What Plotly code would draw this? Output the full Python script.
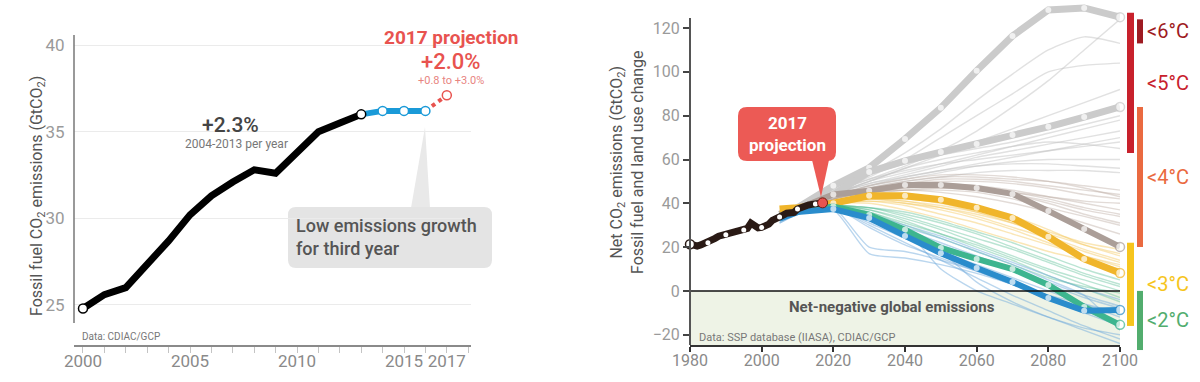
import plotly.graph_objects as go

W, H = 1200, 382

# ---------------- Left chart data ----------------
LEFT_YEARS = list(range(2000, 2018))
LEFT_VALUES = [24.8, 25.6, 26.0, 27.3, 28.7, 30.2, 31.3, 32.1, 32.8, 32.6,
               33.8, 35.0, 35.5, 36.0, 36.2, 36.2, 36.2, 37.1]
LEFT_XTICK_VALUES = [2000, 2005, 2010, 2015, 2017]
LEFT_YTICKS = [25, 30, 35, 40]

# ---------------- Right chart data ----------------
HIST_YEARS = list(range(1980, 2018))
HIST_VALUES = [21.3, 20.8, 20.5, 21.0, 21.6, 22.0, 23.0, 24.0, 25.0, 25.4,
               25.6, 26.3, 26.5, 26.8, 27.3, 27.8, 28.5, 31.0, 29.5, 28.8,
               29.0, 29.8, 30.5, 32.2, 33.3, 33.8, 34.6, 35.5, 36.0, 35.8,
               37.4, 38.2, 38.8, 39.2, 39.5, 39.7, 39.8, 40.2]
HIST_DOT_YEARS = [1985, 1990, 1995, 2000, 2005, 2010, 2015]

SCEN_YEARS = [2005, 2010, 2020, 2030, 2040, 2050, 2060, 2070, 2080, 2090, 2100]

THICK_GRAY_HIGH = [35, 38, 48, 56.2, 69.4, 83.6, 100.5, 116.4, 128.3, 129.2, 125]
THICK_GRAY_MID = [35, 38, 44, 54.3, 59.4, 63.4, 67.1, 71.2, 74.9, 79.4, 84]
THICK_TAUPE = [35, 37.5, 44, 45.7, 48.4, 48.4, 47, 44.3, 36.5, 28.3, 20.1]
THICK_YELLOW = [37.4, 38, 40, 43.4, 43.4, 41.6, 38, 33.3, 24.7, 14.6, 8.2]
THICK_GREEN = [34, 36.5, 38.5, 34.7, 27.9, 19.6, 14.6, 10.0, 2.7, -7.3, -15.5]
THICK_BLUE = [33, 36, 37.4, 33.3, 25.1, 17.2, 10.5, 4.1, -3.2, -9.1, -8.7]

THIN_GRAY = [
    [35, 37, 46, 54, 63, 74, 87, 99, 110, 116, 113],
    [34, 37, 45, 52, 60, 70, 80, 90, 100, 103, 104],
    [35, 37, 45, 51, 57, 64, 73, 84, 96, 110, 124],
    [34, 37, 44, 50, 56, 62, 68, 74, 80, 86, 92],
    [33, 36, 44, 50, 54, 58, 62, 66, 70, 74, 78],
    [35, 37, 44, 49, 53, 57, 61, 64, 67, 70, 73],
    [34, 37, 43, 48, 52, 55, 58, 61, 64, 67, 70],
    [35, 37, 44, 50, 56, 60, 63, 66, 68, 67, 65],
    [33, 36, 43, 48, 51, 54, 57, 59, 60, 60, 60],
    [34, 37, 43, 47, 50, 52, 54, 55, 55, 55, 54],
    [35, 37, 45, 53, 58, 62, 65, 68, 72, 76, 80],
    [34, 37, 44, 49, 52, 55, 57, 58, 58, 57, 56],
    [35, 37, 45, 51, 55, 58, 60, 62, 64, 66, 68],
]
THIN_TAUPE = [
    [35, 37, 43, 47, 50, 52, 52, 51, 50, 48, 46],
    [34, 37, 43, 47, 49, 50, 50, 49, 47, 44, 42],
    [33, 36, 42, 46, 48, 49, 48, 46, 43, 40, 37],
    [34, 37, 42, 45, 47, 47, 46, 44, 41, 37, 34],
    [35, 37, 42, 45, 46, 46, 45, 42, 38, 34, 30],
    [33, 36, 41, 44, 46, 47, 47, 45, 42, 38, 35],
    [34, 37, 42, 46, 48, 48, 47, 45, 43, 41, 40],
    [35, 37, 42, 45, 46, 45, 43, 40, 36, 31, 26],
    [34, 36, 42, 46, 49, 51, 51, 50, 48, 46, 44],
    [34, 37, 43, 48, 51, 53, 53, 52, 50, 47, 43],
    [33, 36, 42, 45, 47, 48, 47, 44, 40, 35, 31],
]
THIN_YELLOW = [
    [35, 37, 41, 43, 43, 41, 38, 34, 28, 21, 16],
    [34, 37, 40, 42, 41, 38, 34, 29, 24, 18, 13],
    [33, 36, 41, 42, 40, 37, 33, 28, 22, 16, 12],
    [34, 37, 40, 41, 39, 35, 31, 26, 21, 16, 11],
    [35, 37, 40, 42, 42, 40, 36, 31, 25, 19, 14],
    [33, 36, 40, 40, 37, 33, 28, 23, 18, 14, 10],
    [34, 37, 40, 41, 40, 38, 35, 31, 26, 21, 17],
    [34, 37, 41, 42, 41, 39, 36, 32, 27, 22, 19],
]
THIN_GREEN = [
    [34, 37, 39, 38, 34, 29, 24, 19, 13, 7, 2],
    [33, 36, 39, 37, 33, 28, 22, 16, 10, 5, 0],
    [34, 37, 39, 38, 35, 31, 26, 20, 14, 8, 3],
    [32, 36, 39, 36, 31, 26, 21, 15, 9, 3, -3],
    [33, 36, 39, 37, 32, 26, 20, 14, 7, 1, -5],
    [34, 37, 38, 36, 30, 24, 18, 12, 6, 2, -1],
    [33, 36, 39, 38, 36, 32, 27, 22, 16, 10, 5],
]
THIN_BLUE = [
    [33, 36, 38, 33, 27, 21, 15, 9, 3, -3, -8],
    [32, 36, 38, 31, 24, 18, 12, 6, 0, -6, -12],
    [31, 35, 37, 17, 15, 12, 8, 3, -2, -6, -10],
    [32, 36, 38, 20, 18, 14, 9, 3, -4, -10, -16],
    [33, 36, 38, 30, 22, 14, 6, -2, -9, -16, -22],
    [32, 35, 38, 32, 26, 18, 4, -5, -12, -18, -24],
    [31, 35, 38, 33, 28, 10, 0, -6, -12, -17, -20],
    [33, 36, 38, 34, 28, 22, 16, 10, 4, -2, -7],
    [32, 36, 38, 29, 21, 15, 9, 3, -3, -9, -15],
    [33, 36, 37, 34, 29, 24, 18, 12, 5, -2, -18],
    [32, 36, 38, 35, 30, 25, 19, 13, 7, 1, -4],
]

TEMP_LABELS = ["<6°C", "<5°C", "<4°C", "<3°C", "<2°C"]
TEMP_LOW = [113, 63, 20, -16, -27]
TEMP_HIGH = [124, 127, 84, 22, 0]
TEMP_COLUMN = [1, 0, 1, 0, 1]
TEMP_COLORS = ["#9e1b22", "#c8212c", "#ea6a40", "#f6c51d", "#52ad6e"]

RIGHT_XTICKS = [1980, 2000, 2020, 2040, 2060, 2080, 2100]
RIGHT_YTICKS = [-20, 0, 20, 40, 60, 80, 100, 120]

# ---------------- geometry ----------------
Y_DOM = [1 - 345 / H, 1 - 4 / H]
L_XDOM = [74 / W, 471 / W]
R_XDOM = [690 / W, 1120 / W]
L_YR = [22.69, 42.37]
R_YR = [-24.7, 131.0]
R_XR = [1980, 2100]

FONT = "Roboto, 'Open Sans', Arial, sans-serif"
RED = "#e8534f"


def px(x):
    return x / W


def py(y):
    return 1 - y / H


def r_ypaper(v):
    return Y_DOM[0] + (v - R_YR[0]) / (R_YR[1] - R_YR[0]) * (Y_DOM[1] - Y_DOM[0])


def rrect(x0, y0, x1, y1, r):
    pts = [
        ("M", [(x0 + r, y0)]), ("L", [(x1 - r, y0)]), ("Q", [(x1, y0), (x1, y0 + r)]),
        ("L", [(x1, y1 - r)]), ("Q", [(x1, y1), (x1 - r, y1)]), ("L", [(x0 + r, y1)]),
        ("Q", [(x0, y1), (x0, y1 - r)]), ("L", [(x0, y0 + r)]), ("Q", [(x0, y0), (x0 + r, y0)]),
    ]
    s = ""
    for cmd, ps in pts:
        s += cmd + " " + " ".join(f"{px(a):.5f},{py(b):.5f}" for a, b in ps) + " "
    return s + "Z"


def tri(p1, p2, p3):
    return "M " + " L ".join(f"{px(a):.5f},{py(b):.5f}" for a, b in (p1, p2, p3)) + " Z"


fig = go.Figure()

# ---------- left chart traces ----------
i13 = LEFT_YEARS.index(2013)
i16 = LEFT_YEARS.index(2016)
fig.add_trace(go.Scatter(x=LEFT_YEARS[:i13 + 1], y=LEFT_VALUES[:i13 + 1], mode="lines",
                         line=dict(color="#000000", width=7), xaxis="x", yaxis="y",
                         hoverinfo="skip", showlegend=False))
fig.add_trace(go.Scatter(x=LEFT_YEARS[i13:i16 + 1], y=LEFT_VALUES[i13:i16 + 1], mode="lines",
                         line=dict(color="#1a9ad8", width=6), xaxis="x", yaxis="y",
                         hoverinfo="skip", showlegend=False))
fig.add_trace(go.Scatter(x=LEFT_YEARS[i16:], y=LEFT_VALUES[i16:], mode="lines",
                         line=dict(color=RED, width=4, dash="dot"), xaxis="x", yaxis="y",
                         hoverinfo="skip", showlegend=False))
mark_years = [2000, 2013, 2014, 2015, 2016, 2017]
mark_cols = ["#000000", "#000000", "#1a9ad8", "#1a9ad8", "#1a9ad8", RED]
fig.add_trace(go.Scatter(x=mark_years, y=[LEFT_VALUES[LEFT_YEARS.index(y)] for y in mark_years],
                         mode="markers", xaxis="x", yaxis="y", cliponaxis=False,
                         marker=dict(color="white", size=9, line=dict(color=mark_cols, width=1.5)),
                         hoverinfo="skip", showlegend=False))

# ---------- right chart traces ----------
thin_groups = [
    (THIN_GRAY, "rgba(195,195,195,0.5)"),
    (THIN_TAUPE, "rgba(185,170,160,0.42)"),
    (THIN_YELLOW, "rgba(244,196,80,0.42)"),
    (THIN_GREEN, "rgba(90,190,150,0.42)"),
    (THIN_BLUE, "rgba(110,170,220,0.48)"),
]
for group, col in thin_groups:
    for vals in group:
        fig.add_trace(go.Scatter(x=SCEN_YEARS, y=vals, mode="lines", xaxis="x2", yaxis="y2",
                                 line=dict(color=col, width=1.4, shape="spline", smoothing=0.6),
                                 hoverinfo="skip", showlegend=False))

thick = [
    (THICK_GRAY_HIGH, "#cbcbcb", 7),
    (THICK_GRAY_MID, "#cbcbcb", 7),
    (THICK_TAUPE, "#ab9e98", 6),
    (THICK_YELLOW, "#f0b52b", 7),
    (THICK_GREEN, "#3db58f", 6),
    (THICK_BLUE, "#2a8ccc", 6),
]
n = len(SCEN_YEARS)
for vals, col, w in thick:
    sizes = [0, 0] + [6] * (n - 3) + [9]
    lws = [0] * (n - 1) + [1.5]
    fig.add_trace(go.Scatter(x=SCEN_YEARS, y=vals, mode="lines+markers", xaxis="x2", yaxis="y2",
                             cliponaxis=False,
                             line=dict(color=col, width=w),
                             marker=dict(color="white", size=sizes, line=dict(color=col, width=lws)),
                             hoverinfo="skip", showlegend=False))

fig.add_trace(go.Scatter(x=HIST_YEARS, y=HIST_VALUES, mode="lines", xaxis="x2", yaxis="y2",
                         line=dict(color="#2a1a15", width=7), hoverinfo="skip", showlegend=False))
fig.add_trace(go.Scatter(x=HIST_DOT_YEARS, y=[HIST_VALUES[HIST_YEARS.index(y)] for y in HIST_DOT_YEARS],
                         mode="markers", xaxis="x2", yaxis="y2",
                         marker=dict(color="white", size=5), hoverinfo="skip", showlegend=False))
fig.add_trace(go.Scatter(x=[HIST_YEARS[0]], y=[HIST_VALUES[0]], mode="markers", xaxis="x2", yaxis="y2",
                         cliponaxis=False,
                         marker=dict(color="white", size=9, line=dict(color="#2a1a15", width=1.5)),
                         hoverinfo="skip", showlegend=False))
fig.add_trace(go.Scatter(x=[HIST_YEARS[-1]], y=[HIST_VALUES[-1]], mode="markers", xaxis="x2", yaxis="y2",
                         marker=dict(color=RED, size=10, line=dict(color="#6a1e14", width=1)),
                         hoverinfo="skip", showlegend=False))

# ---------- shapes ----------
shapes = []
shapes.append(dict(type="line", xref="paper", yref="y", x0=L_XDOM[0], x1=L_XDOM[0], y0=23.96, y1=40.58,
                   line=dict(color="#777777", width=1.5)))
shapes.append(dict(type="path", xref="paper", yref="paper", path=tri((411, 208), (425, 127), (430, 208)),
                   fillcolor="#e9e9e9", line=dict(width=0), layer="below"))
shapes.append(dict(type="path", xref="paper", yref="paper", path=rrect(288, 207, 492, 268, 8),
                   fillcolor="#e4e4e4", line=dict(width=0), layer="below"))
shapes.append(dict(type="rect", xref="x2", yref="y2", x0=R_XR[0], x1=R_XR[1], y0=R_YR[0], y1=0,
                   fillcolor="#eef3e6", line=dict(width=0), layer="below"))
shapes.append(dict(type="line", xref="x2", yref="y2", x0=R_XR[0], x1=R_XR[1], y0=0, y1=0,
                   line=dict(color="#111111", width=1.5)))
shapes.append(dict(type="line", xref="paper", yref="y2", x0=R_XDOM[0], x1=R_XDOM[0], y0=R_YR[0], y1=124.6,
                   line=dict(color="#555555", width=2)))
shapes.append(dict(type="path", xref="paper", yref="paper", path=tri((812, 160), (821, 197), (829, 160)),
                   fillcolor="#ec5a55", line=dict(width=0)))
shapes.append(dict(type="path", xref="paper", yref="paper", path=rrect(738, 107, 836, 161, 9),
                   fillcolor="#ec5a55", line=dict(width=0)))
col_x = [(1127, 1134), (1137, 1143)]
for lo, hi, c, colr in zip(TEMP_LOW, TEMP_HIGH, TEMP_COLUMN, TEMP_COLORS):
    x0, x1 = col_x[c]
    shapes.append(dict(type="rect", xref="paper", yref="paper", x0=px(x0), x1=px(x1),
                       y0=r_ypaper(lo), y1=r_ypaper(hi), fillcolor=colr, line=dict(width=0)))

# ---------- annotations ----------
ann = []


def text(x, y, s, size, color, weight="normal", xanchor="center", align="center", xref="paper",
         yref="paper", **kw):
    ann.append(dict(x=x if xref != "paper" else px(x), y=y if yref != "paper" else py(y),
                    xref=xref, yref=yref, text=s, showarrow=False, xanchor=xanchor, yanchor="middle",
                    align=align, borderpad=0,
                    font=dict(family=FONT, size=size, color=color, weight=weight),
                    **kw))


text(451, 38, "2017 projection", 19, RED, weight="bold")
text(451, 61, "+2.0%", 22, RED, weight=500)
text(451, 80, "+0.8 to +3.0%", 11, "#e8857f")
text(230, 125, "+2.3%", 21, "#444444", weight=500)
text(236, 144, "2004-2013 per year", 12, "#777777")
text(295, 237, "Low emissions growth<br>for third year", 18, "#555555", weight=500,
     xanchor="left", align="left")
text(81, 336, "Data: CDIAC/GCP", 10, "#777777", xanchor="left")
text(37, 196, "Fossil fuel CO<sub>2</sub> emissions (GtCO<sub>2</sub>)", 16, "#555555", textangle=-90)

text(627, 163, "Net CO<sub>2</sub> emissions (GtCO<sub>2</sub>)<br>Fossil fuel and land use change", 16,
     "#555555", textangle=-90)
text(787, 134, "2017<br>projection", 17, "white", weight="bold")
text(892, 307, "Net-negative global emissions", 15, "#555555", weight="bold")
text(698, 337, "Data: SSP database (IIASA), CDIAC/GCP", 11, "#777777", xanchor="left")
for lab, lo, hi, colr in zip(TEMP_LABELS, TEMP_LOW, TEMP_HIGH, TEMP_COLORS):
    text(1146, (lo + hi) / 2, lab, 20, colr, xanchor="left", yref="y2")

fig.update_layout(
    width=W, height=H, margin=dict(l=0, r=0, t=0, b=0, autoexpand=False),
    paper_bgcolor="white", plot_bgcolor="rgba(0,0,0,0)",
    font=dict(family=FONT),
    shapes=shapes, annotations=ann,
    xaxis=dict(domain=L_XDOM, range=[1999.58, 2018.13], anchor="y", automargin=False,
               showline=True, linecolor="#8a8a8a", linewidth=1.5,
               ticks="outside", ticklen=6, tickcolor="#c4c4c4", tickwidth=1, ticklabelstandoff=-6,
               tickmode="array", tickvals=LEFT_XTICK_VALUES,
               minor=dict(ticks="outside", ticklen=6, tickcolor="#c4c4c4", dtick=1, tick0=2000,
                          showgrid=False),
               tickfont=dict(size=17, color="#8a8a8a"), showgrid=False, zeroline=False),
    yaxis=dict(domain=Y_DOM, range=L_YR, anchor="x", automargin=False,
               showgrid=True, gridcolor="#ebebeb", gridwidth=1,
               tickvals=LEFT_YTICKS, ticks="outside", ticklen=5, tickcolor="rgba(0,0,0,0)",
               tickfont=dict(size=17, color="#9a9a9a"), showline=False, zeroline=False),
    xaxis2=dict(domain=R_XDOM, range=R_XR, anchor="y2", automargin=False,
                showline=True, linecolor="#333333", linewidth=2,
                ticks="outside", ticklen=5, tickcolor="#333333", tickwidth=1.5, ticklabelstandoff=-5,
                tickvals=RIGHT_XTICKS, tickfont=dict(size=16, color="#8a8a8a"),
                showgrid=False, zeroline=False),
    yaxis2=dict(domain=Y_DOM, range=R_YR, anchor="x2", automargin=False,
                ticks="outside", ticklen=6, tickcolor="#444444", tickwidth=1.5,
                tickvals=RIGHT_YTICKS, tickfont=dict(size=16, color="#9a9a9a"),
                showgrid=False, zeroline=False, showline=False),
)

fig.write_html("out.html", config={"displayModeBar": False},
               post_script="document.body.style.margin='0';")
